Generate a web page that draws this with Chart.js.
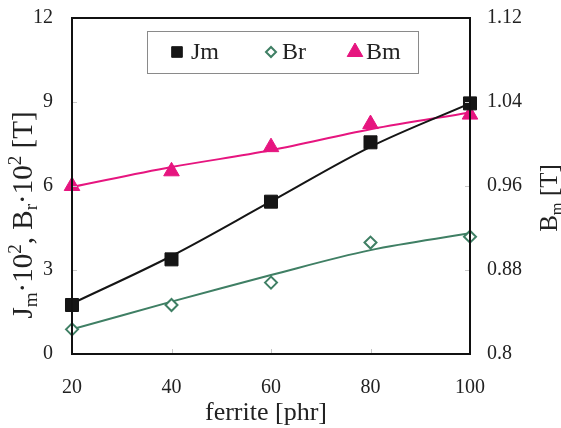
<!DOCTYPE html>
<html>
<head>
<meta charset="utf-8">
<script src="https://cdn.jsdelivr.net/npm/chart.js@4/dist/chart.umd.min.js"></script>
<style>
  html, body { margin: 0; padding: 0; background: #fff; }
  #wrap { width: 561px; height: 428px; position: relative; }
</style>
</head>
<body>
<div id="wrap"><canvas id="c"></canvas></div>
<script>
// Ferrite loading (phr)
const ferrite = [20, 40, 60, 80, 100];

// Measured values: Jm·10², Br·10² [T] on the left axis, Bm [T] on the right axis
const jmMeasured = [1.75, 3.38, 5.44, 7.56, 8.95];
const brMeasured = [0.88, 1.75, 2.55, 3.98, 4.19];
const bmMeasured = [0.960, 0.974, 0.997, 1.019, 1.028];

// Smoothed trend curves through the measurements
const jmTrend = [1.80, 3.50, 5.45, 7.40, 8.95];
const brTrend = [0.88, 1.87, 2.82, 3.71, 4.31];
const bmTrend = [0.959, 0.978, 0.994, 1.014, 1.030];

// Axis ticks
const xTicks = [20, 40, 60, 80, 100];
const leftTicks = [0, 3, 6, 9, 12];
const rightTicks = [0.8, 0.88, 0.96, 1.04, 1.12];
const rightTickLabels = ['0.8', '0.88', '0.96', '1.04', '1.12'];

const seriesNames = ['Jm', 'Br', 'Bm'];

const SERIF = '"Liberation Serif", "Times New Roman", serif';
const INK = '#222';
const JM_COLOR = '#151515';
const BR_COLOR = '#3f7f64';
const BM_COLOR = '#e6157f';

const pts = (ys) => ferrite.map((x, i) => ({ x, y: ys[i] }));

// Keep the vertical axes from reserving extra room above/below the plot
const trimVerticalPadding = (width) => (s) => {
  s.width = width;
  s.paddingTop = 12;
  s.paddingBottom = 12;
};

// Plot frame plus the short light tick marks inside it
const framePlugin = {
  id: 'frame',
  afterDatasetsDraw(chart) {
    const { ctx, chartArea: a, scales } = chart;
    ctx.save();
    ctx.strokeStyle = '#c8c8c8';
    ctx.lineWidth = 1;
    ctx.beginPath();
    xTicks.slice(1, -1).forEach(v => {
      const px = Math.round(scales.x.getPixelForValue(v)) + 0.5;
      ctx.moveTo(px, a.bottom); ctx.lineTo(px, a.bottom - 5);
    });
    leftTicks.slice(1, -1).forEach(v => {
      const py = Math.round(scales.y.getPixelForValue(v)) + 0.5;
      ctx.moveTo(a.left, py); ctx.lineTo(a.left + 5, py);
    });
    rightTicks.slice(1, -1).forEach(v => {
      const py = Math.round(scales.y2.getPixelForValue(v)) + 0.5;
      ctx.moveTo(a.right, py); ctx.lineTo(a.right - 5, py);
    });
    ctx.stroke();
    ctx.strokeStyle = '#111';
    ctx.lineWidth = 2;
    ctx.strokeRect(a.left, a.top, a.right - a.left, a.bottom - a.top);
    ctx.restore();
  }
};

// Draw a run of text pieces with sub/superscripts along the current baseline
function drawRich(ctx, pieces, size, align) {
  const widths = pieces.map(p => {
    const s = p.sub || p.sup ? size * 0.66 : size;
    ctx.font = `${s}px ${SERIF}`;
    return ctx.measureText(p.t).width;
  });
  const total = widths.reduce((a, b) => a + b, 0);
  let x = align === 'center' ? -total / 2 : 0;
  pieces.forEach((p, i) => {
    const s = p.sub || p.sup ? size * 0.66 : size;
    ctx.font = `${s}px ${SERIF}`;
    const dy = p.sub ? size * 0.18 : p.sup ? -size * 0.38 : 0;
    ctx.fillText(p.t, x, dy);
    x += widths[i];
  });
}

const titlesPlugin = {
  id: 'titles',
  afterDraw(chart) {
    const { ctx, chartArea: a } = chart;
    ctx.save();
    ctx.fillStyle = INK;
    ctx.textBaseline = 'alphabetic';
    ctx.textAlign = 'left';

    // bottom title
    ctx.save();
    ctx.translate((a.left + a.right) / 2 - 5, 420);
    drawRich(ctx, [{ t: 'ferrite [phr]' }], 26, 'center');
    ctx.restore();

    // left title
    ctx.save();
    ctx.translate(32, 215);
    ctx.rotate(-Math.PI / 2);
    drawRich(ctx, [
      { t: 'J' }, { t: 'm', sub: true }, { t: '·10' }, { t: '2', sup: true },
      { t: ', B' }, { t: 'r', sub: true }, { t: '·10' }, { t: '2', sup: true },
      { t: ' [T]' }
    ], 29, 'center');
    ctx.restore();

    // right title
    ctx.save();
    ctx.translate(557, 198);
    ctx.rotate(-Math.PI / 2);
    drawRich(ctx, [{ t: 'B' }, { t: 'm', sub: true }, { t: ' [T]' }], 25, 'center');
    ctx.restore();

    ctx.restore();
  }
};

// Boxed legend inside the plot
const legendPlugin = {
  id: 'boxLegend',
  afterDraw(chart) {
    const { ctx, chartArea: a } = chart;
    const box = { x: a.left + 75, y: a.top + 13, w: 271, h: 42 };
    ctx.save();
    ctx.fillStyle = '#fff';
    ctx.fillRect(box.x, box.y, box.w, box.h);
    ctx.strokeStyle = '#8a8a8a';
    ctx.lineWidth = 1;
    ctx.strokeRect(box.x + 0.5, box.y + 0.5, box.w, box.h);
    const cy = box.y + 21;
    const items = [
      { ds: 0, mx: box.x + 30, tx: box.x + 44, r: 7.5 },
      { ds: 1, mx: box.x + 124, tx: box.x + 135, r: 5 },
      { ds: 2, mx: box.x + 208, tx: box.x + 219, r: 9 }
    ];
    items.forEach((it, i) => {
      const d = chart.data.datasets[it.ds];
      ctx.fillStyle = d.pointBackgroundColor;
      ctx.strokeStyle = d.pointBorderColor;
      ctx.lineWidth = d.pointBorderWidth;
      Chart.helpers.drawPoint(ctx, { pointStyle: d.pointStyle, radius: it.r, borderWidth: d.pointBorderWidth, rotation: 0 }, it.mx, cy);
      ctx.fillStyle = INK;
      ctx.font = `24px ${SERIF}`;
      ctx.textBaseline = 'middle';
      ctx.textAlign = 'left';
      ctx.fillText(seriesNames[i], it.tx, cy + 1);
    });
    ctx.restore();
  }
};

const markerSet = (label, data, yAxisID, style, radius, bg, border, bw) => ({
  label, data, yAxisID,
  showLine: false,
  pointStyle: style,
  pointRadius: radius,
  pointHoverRadius: radius,
  pointBackgroundColor: bg,
  pointBorderColor: border,
  pointBorderWidth: bw,
  backgroundColor: bg,
  borderColor: border,
  clip: false,
  order: 0
});

const trendSet = (data, yAxisID, color) => ({
  label: '',
  data, yAxisID,
  showLine: true,
  borderColor: color,
  borderWidth: 2,
  pointRadius: 0,
  tension: 0.35,
  fill: false,
  order: 1
});

new Chart(document.getElementById('c'), {
  type: 'scatter',
  data: {
    datasets: [
      markerSet('Jm', pts(jmMeasured), 'y', 'rect', 9.2, JM_COLOR, JM_COLOR, 1),
      markerSet('Br', pts(brMeasured), 'y', 'rectRot', 6, '#ffffff', BR_COLOR, 2),
      markerSet('Bm', pts(bmMeasured), 'y2', 'triangle', 9, BM_COLOR, BM_COLOR, 1),
      trendSet(pts(jmTrend), 'y', JM_COLOR),
      trendSet(pts(brTrend), 'y', BR_COLOR),
      trendSet(pts(bmTrend), 'y2', BM_COLOR)
    ]
  },
  options: {
    responsive: true,
    maintainAspectRatio: false,
    animation: false,
    layout: { padding: { top: 18, left: 0, right: 0, bottom: 0 } },
    plugins: { legend: { display: false }, tooltip: { enabled: false } },
    scales: {
      x: {
        type: 'linear', min: 20, max: 100,
        afterBuildTicks: s => { s.ticks = xTicks.map(v => ({ value: v })); },
        afterFit: s => { s.height = 74; },
        grid: { display: false, drawTicks: false },
        border: { display: false },
        ticks: { padding: 22, color: INK, font: { family: SERIF, size: 20 }, maxRotation: 0 }
      },
      y: {
        type: 'linear', position: 'left', min: 0, max: 12,
        afterBuildTicks: s => { s.ticks = leftTicks.map(v => ({ value: v })); },
        afterFit: trimVerticalPadding(72),
        grid: { display: false, drawTicks: false },
        border: { display: false },
        ticks: { padding: 19, color: INK, font: { family: SERIF, size: 20 } }
      },
      y2: {
        type: 'linear', position: 'right', min: 0.8, max: 1.12,
        afterBuildTicks: s => { s.ticks = rightTicks.map(v => ({ value: v })); },
        afterFit: trimVerticalPadding(91),
        grid: { display: false, drawTicks: false },
        border: { display: false },
        ticks: {
          padding: 17, color: INK, font: { family: SERIF, size: 20 },
          callback: (v, i) => rightTickLabels[i]
        }
      }
    }
  },
  plugins: [framePlugin, titlesPlugin, legendPlugin]
});
</script>
</body>
</html>
